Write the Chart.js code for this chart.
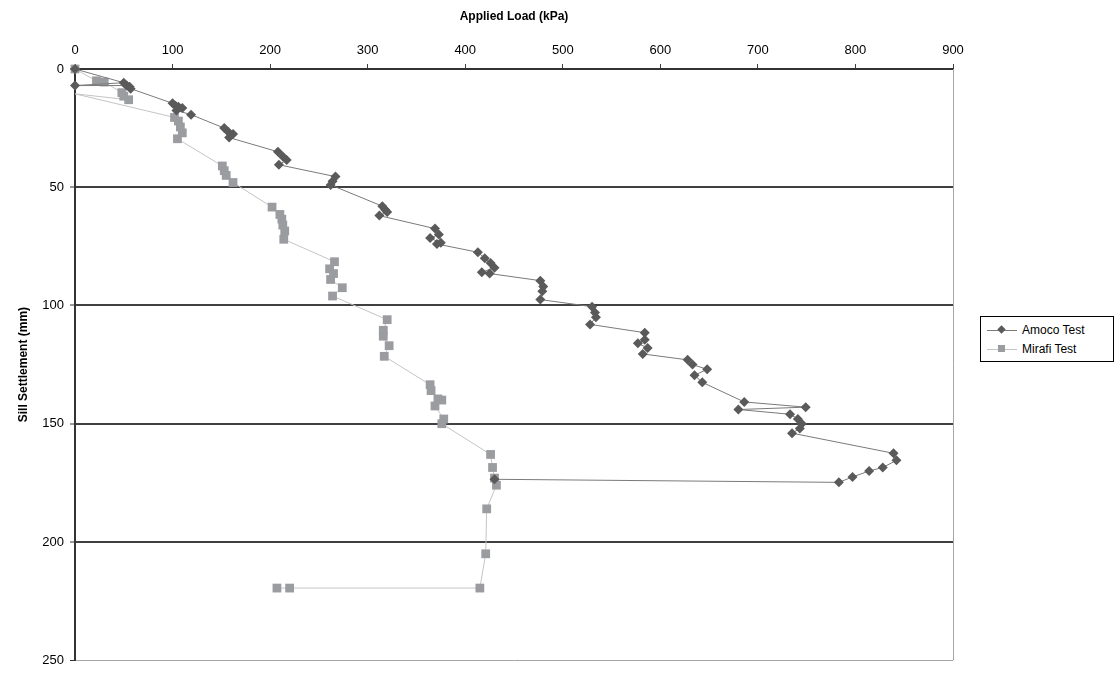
<!DOCTYPE html>
<html>
<head>
<meta charset="utf-8">
<script src="https://cdn.jsdelivr.net/npm/chart.js@4.4.1/dist/chart.umd.min.js"></script>
<style>
    body { margin: 0; background: #fff; font-family: "Liberation Sans", Arial, sans-serif; }
    #wrap { position: relative; width: 1120px; height: 674px; }
    #legend { position: absolute; left: 980px; top: 316px; width: 132px; border: 1px solid #000;
              background: #fff; padding: 3px 0 3px 0; font-size: 12px; color: #000; }
    .row { display: flex; align-items: center; height: 19px; }
    .sw { position: relative; width: 30px; height: 10px; margin: 0 5px 0 6px; }
    .sw .ln { position: absolute; left: 0; right: 0; top: 5px; height: 1px; }
    .sw .mk { position: absolute; left: 11px; top: 1px; width: 7px; height: 7px; }
</style>
</head>
<body>
<div id="wrap">
    <canvas id="chart" width="1120" height="674"></canvas>
    <div id="legend"></div>
</div>
<script>
// Axis ticks
const xTicks = [0, 100, 200, 300, 400, 500, 600, 700, 800, 900];
const yTicks = [0, 50, 100, 150, 200, 250];

// Amoco Test: applied load (kPa) / settlement (mm)
const amocoLoad = [0, 50, 0, 53, 56, 57, 100, 103, 106, 110, 104, 119,
    153, 157, 162, 158, 208, 213, 217, 209, 267, 264, 262, 315, 318, 320, 312,
    369, 373, 364, 375, 371, 413, 420, 426, 430, 417, 425, 477, 480, 479, 477,
    530, 533, 534, 528, 584, 584, 577, 587, 582, 628, 633, 648, 635, 643,
    686, 749, 680, 733, 741, 745, 743, 735, 839, 842, 828, 814, 797, 783, 430];
const amocoSettle = [0, 5.8, 7, 7, 7.5, 8.3, 14.5, 15.5, 16, 16.5, 17.5, 19.3,
    25, 26.5, 27.5, 29, 35, 37, 38.5, 40.5, 45.5, 47.5, 49, 58, 59.5, 60.5, 62,
    67.5, 70, 71.5, 73.5, 74, 77.5, 80, 82, 84, 86, 86.5, 89.5, 92, 94, 97.5,
    100.5, 103, 105, 108, 111.5, 114.5, 116, 118, 120.5, 123, 125, 127, 129.5, 132.5,
    140.8, 143, 144, 146, 148, 150, 152, 154, 162.5, 165.5, 168.5, 170, 172.5, 174.8, 173.5];

// Mirafi Test
const mirafiLoad = [0, 22, 30, 48, 50, 55, 0, 102, 106, 108, 110, 105,
    151, 153, 155, 162, 202, 210, 212, 213, 215, 214, 266, 261, 265, 262, 274, 264,
    320, 316, 316, 322, 317, 364, 365, 372, 376, 369, 378, 376,
    426, 428, 430, 432, 422, 421, 415, 220, 207];
const mirafiSettle = [0, 5, 5.5, 10, 11.5, 13, 10.5, 20.5, 22, 24.5, 27, 29.5,
    41, 43, 45, 48, 58.4, 61.5, 63.5, 66, 68.5, 72, 81.5, 84.5, 86.5, 89, 92.5, 96,
    106, 110.5, 113, 117, 121.5, 133.5, 136, 139.5, 140, 142.5, 148, 150,
    163, 168.5, 173, 176, 186, 205, 219.5, 219.5, 219.5];

const seriesNames = ['Amoco Test', 'Mirafi Test'];

function toPoints(xs, ys) {
    return xs.map((x, i) => ({ x: x, y: ys[i] }));
}

// right frame line of the plot area
const framePlugin = {
    id: 'frame',
    beforeDatasetsDraw(chart) {
        const a = chart.chartArea;
        const ctx = chart.ctx;
        ctx.save();
        ctx.strokeStyle = '#a6a6a6';
        ctx.lineWidth = 1;
        ctx.beginPath();
        ctx.moveTo(a.right + 0.5, a.top);
        ctx.lineTo(a.right + 0.5, a.bottom);
        ctx.stroke();
        ctx.restore();
    }
};

const ctx = document.getElementById('chart').getContext('2d');
const chart = new Chart(ctx, {
    type: 'line',
    data: {
        datasets: [{
            label: seriesNames[0],
            data: toPoints(amocoLoad, amocoSettle),
            borderColor: '#7a7a7a',
            borderWidth: 1,
            pointStyle: 'rectRot',
            pointRadius: 5,
            pointBackgroundColor: '#5a5a5a',
            pointBorderColor: '#5a5a5a',
            pointBorderWidth: 0,
            tension: 0,
            clip: false
        }, {
            label: seriesNames[1],
            data: toPoints(mirafiLoad, mirafiSettle),
            borderColor: '#c4c4c4',
            borderWidth: 1,
            pointStyle: 'rect',
            pointRadius: c => (c.raw && c.raw.x === 0 && c.raw.y !== 0) ? 0 : 6.2,
            pointBackgroundColor: '#9b9ca0',
            pointBorderColor: '#9b9ca0',
            pointBorderWidth: 0,
            tension: 0,
            clip: false
        }]
    },
    options: {
        responsive: false,
        animation: false,
        layout: { padding: { left: 0, top: 0, right: 167, bottom: 10 } },
        plugins: {
            legend: { display: false },
            tooltip: { enabled: false }
        },
        scales: {
            x: {
                type: 'linear',
                position: 'top',
                min: 0,
                max: 900,
                afterBuildTicks: s => { s.ticks = xTicks.map(v => ({ value: v })); },
                afterFit: s => { s.height = 69; },
                ticks: {
                    color: '#000',
                    padding: 6,
                    font: { family: '"Liberation Sans", Arial', size: 13 }
                },
                grid: {
                    drawOnChartArea: false,
                    color: '#404040',
                    tickLength: 5,
                    tickWidth: 1
                },
                border: { color: '#333', width: 2 },
                title: {
                    display: true,
                    text: 'Applied Load (kPa)',
                    color: '#000',
                    padding: { top: 9, bottom: 0 },
                    font: { family: '"Liberation Sans", Arial', size: 12, weight: 'bold' }
                }
            },
            y: {
                type: 'linear',
                reverse: true,
                min: 0,
                max: 250,
                afterBuildTicks: s => { s.ticks = yTicks.map(v => ({ value: v })); },
                afterFit: s => { s.width = 75; },
                ticks: {
                    color: '#000',
                    padding: 6,
                    font: { family: '"Liberation Sans", Arial', size: 13 }
                },
                grid: {
                    color: c => (c.tick && c.tick.value === 250) ? '#a6a6a6' : '#404040',
                    lineWidth: c => (c.tick && c.tick.value === 250) ? 1 : 2,
                    tickColor: '#333',
                    tickWidth: 1,
                    tickLength: 5
                },
                border: { color: '#333', width: 2 },
                title: {
                    display: true,
                    text: 'Sill Settlement (mm)',
                    color: '#000',
                    padding: { top: 16, bottom: 0 },
                    font: { family: '"Liberation Sans", Arial', size: 12, weight: 'bold' }
                }
            }
        }
    },
    plugins: [framePlugin]
});

// HTML legend: line with marker, like the spreadsheet legend
const legend = document.getElementById('legend');
chart.data.datasets.forEach((ds, i) => {
    const row = document.createElement('div');
    row.className = 'row';
    const mkColor = ds.pointBackgroundColor;
    const rot = ds.pointStyle === 'rectRot' ? 'transform: rotate(45deg) scale(0.85);' : '';
    row.innerHTML = `<span class="sw"><span class="ln" style="background:${ds.borderColor}"></span>` +
        `<span class="mk" style="background:${mkColor};${rot}"></span></span><span>${ds.label}</span>`;
    legend.appendChild(row);
});
</script>
</body>
</html>
